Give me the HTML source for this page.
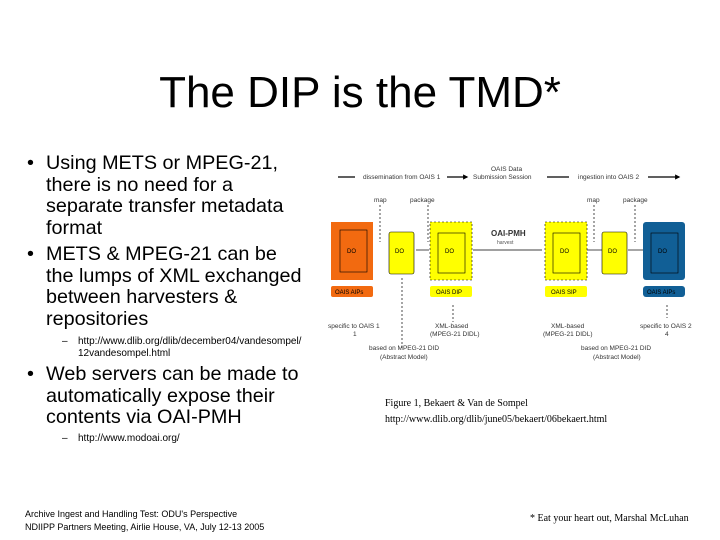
<!DOCTYPE html>
<html><head><meta charset="utf-8"><style>
body{margin:0;width:720px;height:540px;background:#fff;position:relative;overflow:hidden;font-family:"Liberation Sans",sans-serif;color:#000}
.a{position:absolute}
.t{font-size:19.8px;line-height:21.5px;white-space:nowrap}
.s{font-size:10px;line-height:12px}
</style></head><body>
<div class="a" style="left:0;width:720px;top:68px;text-align:center;font-size:44px">The DIP is the TMD*</div>

<div class="a t" style="left:27px;top:153px">•</div>
<div class="a t" style="left:46px;top:153px">Using METS or MPEG-21,<br>there is no need for a<br>separate transfer metadata<br>format</div>
<div class="a t" style="left:27px;top:244px">•</div>
<div class="a t" style="left:46px;top:244px">METS &amp; MPEG-21 can be<br>the lumps of XML exchanged<br>between harvesters &amp;<br>repositories</div>
<div class="a s" style="left:62px;top:336px">–</div>
<div class="a s" style="left:78px;top:336px;width:228px;word-break:break-all">http://www.dlib.org/dlib/december04/vandesompel/12vandesompel.html</div>
<div class="a t" style="left:27px;top:364px">•</div>
<div class="a t" style="left:46px;top:364px">Web servers can be made to<br>automatically expose their<br>contents via OAI-PMH</div>
<div class="a s" style="left:62px;top:433px">–</div>
<div class="a s" style="left:78px;top:433px">http://www.modoai.org/</div>

<div class="a" style="left:25px;top:508px;font-size:9px;line-height:13px">Archive Ingest and Handling Test: ODU's Perspective<br>NDIIPP Partners Meeting, Airlie House, VA, July 12-13 2005</div>
<div class="a" style="left:530px;top:513px;font-family:'Liberation Serif',serif;font-size:10px">* Eat your heart out, Marshal McLuhan</div>

<div class="a" style="left:385px;top:396px;font-family:'Liberation Serif',serif;font-size:10px;line-height:16px">Figure 1, Bekaert &amp; Van de Sompel<br>http://www.dlib.org/dlib/june05/bekaert/06bekaert.html</div>

<svg class="a" style="left:325px;top:160px" width="395" height="205" font-family="Liberation Sans, sans-serif">
<defs><marker id="ar" markerWidth="4" markerHeight="4" refX="3" refY="2" orient="auto"><path d="M0,0L4,2L0,4z" fill="#000"/></marker></defs>
<g stroke="#000" stroke-width="1.3" fill="none">
<line x1="13" y1="17" x2="30" y2="17"/><line x1="122" y1="17" x2="142" y2="17" marker-end="url(#ar)"/><line x1="222" y1="17" x2="244" y2="17"/><line x1="323" y1="17" x2="354" y2="17" marker-end="url(#ar)"/>
<line x1="148" y1="90" x2="217" y2="90" stroke-width="0.7"/>
<line x1="91" y1="90" x2="104" y2="90" stroke-width="0.7"/>
<line x1="262" y1="90" x2="278" y2="90" stroke-width="0.7"/>
<line x1="303" y1="90" x2="318" y2="90" stroke-width="0.7"/>
<g stroke-dasharray="2,2" stroke-width="0.7"><line x1="55" y1="45" x2="55" y2="82"/><line x1="103" y1="45" x2="103" y2="82"/><line x1="269" y1="45" x2="269" y2="82"/><line x1="310" y1="45" x2="310" y2="82"/>
<line x1="77" y1="118" x2="77" y2="188"/><line x1="128" y1="145" x2="128" y2="162"/><line x1="342" y1="145" x2="342" y2="158"/></g>
</g>
<text font-size="6.5" fill="#333"><tspan x="38" y="19">dissemination from OAIS 1</tspan><tspan x="148" y="19">Submission Session</tspan><tspan x="166" y="11">OAIS Data</tspan><tspan x="253" y="19">ingestion into OAIS 2</tspan>
<tspan x="49" y="42">map</tspan><tspan x="85" y="42">package</tspan><tspan x="262" y="42">map</tspan><tspan x="298" y="42">package</tspan>
<tspan x="3" y="168">specific to OAIS 1</tspan><tspan x="28" y="176">1</tspan><tspan x="110" y="168">XML-based</tspan><tspan x="105" y="176">(MPEG-21 DIDL)</tspan><tspan x="226" y="168">XML-based</tspan><tspan x="218" y="176">(MPEG-21 DIDL)</tspan><tspan x="315" y="168">specific to OAIS 2</tspan><tspan x="340" y="176">4</tspan>
<tspan x="44" y="190">based on MPEG-21 DID</tspan><tspan x="55" y="199">(Abstract Model)</tspan><tspan x="256" y="190">based on MPEG-21 DID</tspan><tspan x="268" y="199">(Abstract Model)</tspan></text>
<text x="166" y="76" font-size="8" font-weight="bold" fill="#333">OAI-PMH</text><text x="172" y="84" font-size="5" fill="#555">harvest</text>
<rect x="6" y="62" width="42" height="58" fill="#f26a10"/><rect x="15" y="70" width="27" height="42" fill="none" stroke="#000" stroke-width="0.6"/><text x="22" y="93" font-size="6">DO</text>
<rect x="6" y="126" width="42" height="11" rx="2" fill="#f26a10"/><text x="10" y="134" font-size="6">OAIS AIPs</text>
<rect x="64" y="72" width="25" height="42" rx="2" fill="#ffff00" stroke="#000" stroke-width="0.6"/><text x="70" y="93" font-size="6">DO</text>
<rect x="105" y="62" width="42" height="58" fill="#ffff00" stroke="#000" stroke-dasharray="2,2" stroke-width="0.6"/><rect x="113" y="73" width="27" height="40" fill="none" stroke="#000" stroke-width="0.6"/><text x="120" y="93" font-size="6">DO</text>
<rect x="105" y="126" width="42" height="11" rx="2" fill="#ffff00"/><text x="111" y="134" font-size="6">OAIS DIP</text>
<rect x="220" y="62" width="42" height="58" fill="#ffff00" stroke="#000" stroke-dasharray="2,2" stroke-width="0.6"/><rect x="228" y="73" width="27" height="40" fill="none" stroke="#000" stroke-width="0.6"/><text x="235" y="93" font-size="6">DO</text>
<rect x="220" y="126" width="42" height="11" rx="2" fill="#ffff00"/><text x="226" y="134" font-size="6">OAIS SIP</text>
<rect x="277" y="72" width="25" height="42" rx="2" fill="#ffff00" stroke="#000" stroke-width="0.6"/><text x="283" y="93" font-size="6">DO</text>
<rect x="318" y="62" width="42" height="58" rx="3" fill="#115f96"/><rect x="326" y="73" width="27" height="40" fill="none" stroke="#000" stroke-width="0.6"/><text x="333" y="93" font-size="6">DO</text>
<rect x="318" y="126" width="42" height="11" rx="3" fill="#115f96"/><text x="322" y="134" font-size="6">OAIS AIPs</text>
</svg>
</body></html>
